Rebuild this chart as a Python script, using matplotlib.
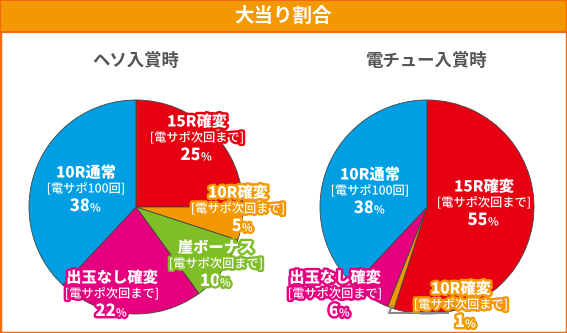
"""
大当り割合 pie charts
"""
import matplotlib
matplotlib.use('Agg')
import matplotlib.pyplot as plt
import matplotlib.patheffects as pe
from matplotlib.patches import Rectangle

plt.rcParams['font.family'] = ['Noto Sans CJK JP', 'DejaVu Sans']

# data
title = '大当り割合'
left_title = 'ヘソ入賞時'
right_title = '電チュー入賞時'

left_names = ['15R確変', '10R確変', '崖ボーナス', '出玉なし確変', '10R通常']
left_subs = ['[電サポ次回まで]', '[電サポ次回まで]', '[電サポ次回まで]', '[電サポ次回まで]', '[電サポ100回]']
left_values = [25, 5, 10, 22, 38]

right_names = ['15R確変', '10R確変', '出玉なし確変', '10R通常']
right_subs = ['[電サポ次回まで]', '[電サポ次回まで]', '[電サポ次回まで]', '[電サポ100回]']
right_values = [55, 1, 6, 38]

# styles
RED = '#E60012'
ORANGE = '#F39800'
GREEN = '#80BE28'
MAGENTA = '#E4007F'
BLUE = '#009FE3'
left_colors = [RED, ORANGE, GREEN, MAGENTA, BLUE]
right_colors = [RED, ORANGE, MAGENTA, BLUE]

W, H = 567, 333
R = 107
left_center = (136, 207)
right_center = (427, 207)

# label layout (image pixel coords, first line centre)
left_label_pos = [(197, 122), (238, 193), (216, 248), (112, 278), (86, 173)]
right_label_pos = [(484, 187), (461, 289), (335, 278), (370, 175)]

fig = plt.figure(figsize=(W / 100, H / 100), dpi=100)
ax = fig.add_axes([0, 0, 1, 1])

# frame + header
ax.add_patch(Rectangle((0, 0), W, H, facecolor='white', edgecolor='#EE6B12', linewidth=2.5, zorder=0))
ax.add_patch(Rectangle((0, 0), W, 32, facecolor=ORANGE, edgecolor='#EE6B12', linewidth=1.5, zorder=1))
ax.text(W / 2, 16, title, color='white', fontsize=14, fontweight='bold', ha='center', va='center', zorder=2)

ax.text(left_center[0], 61, left_title, color='#555555', fontsize=12.5, fontweight='bold', ha='center', va='center')
ax.text(right_center[0], 61, right_title, color='#555555', fontsize=12.5, fontweight='bold', ha='center', va='center')

# y axis is inverted -> start at -90 going counterclockwise in data = clockwise on screen
wedge_kw = dict(edgecolor='#444444', linewidth=0.6)
ax.pie(left_values, colors=left_colors, center=left_center, radius=R, startangle=-90,
       counterclock=True, wedgeprops=wedge_kw, frame=True)
ax.pie(right_values, colors=right_colors, center=right_center, radius=R, startangle=-90,
       counterclock=True, wedgeprops=wedge_kw, frame=True)

# leader line for the 1% slice
ax.plot([392, 389, 448], [306, 313, 313], color='#888888', linewidth=1.5, zorder=3)


def draw_label(x, y, name, sub, value, color):
    stroke = [pe.Stroke(linewidth=3.5, foreground=color), pe.Normal()]
    ax.text(x, y, name, color='white', fontsize=11, fontweight='heavy', ha='center', va='center',
            path_effects=stroke, zorder=5)
    ax.text(x, y + 16, sub, color='white', fontsize=8.8, fontweight='medium', ha='center', va='center',
            path_effects=stroke, zorder=5)
    ax.text(x + 4, y + 33, str(value), color='white', fontsize=12, fontweight='heavy', ha='right',
            va='center', path_effects=stroke, zorder=5)
    ax.text(x + 4, y + 35, '%', color='white', fontsize=8, fontweight='bold', ha='left',
            va='center', path_effects=stroke, zorder=5)


for (x, y), n, s, v, c in zip(left_label_pos, left_names, left_subs, left_values, left_colors):
    draw_label(x, y, n, s, v, c)
for (x, y), n, s, v, c in zip(right_label_pos, right_names, right_subs, right_values, right_colors):
    draw_label(x, y, n, s, v, c)

ax.set_xlim(0, W)
ax.set_ylim(H, 0)
ax.set_aspect('auto')
ax.axis('off')

fig.savefig('out.png', dpi=100)
